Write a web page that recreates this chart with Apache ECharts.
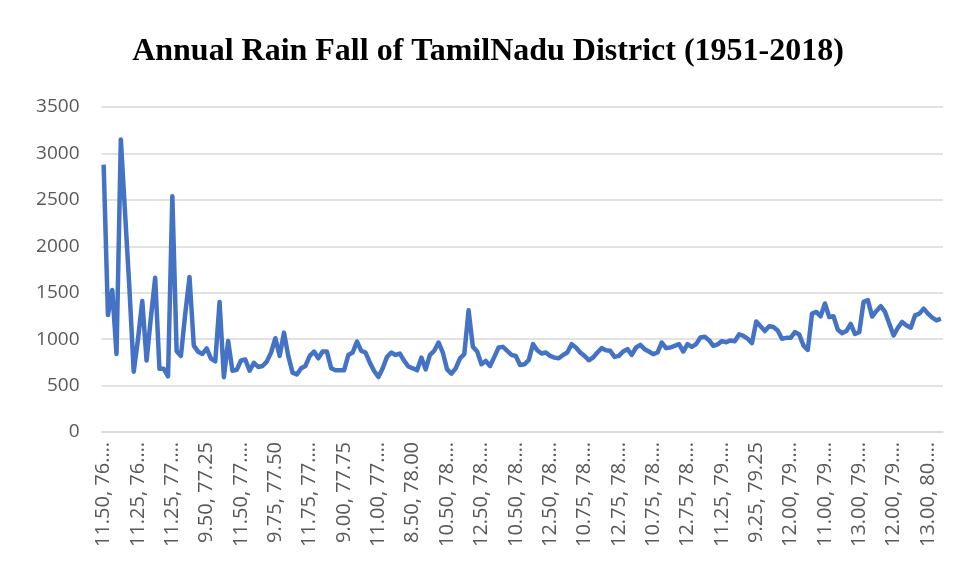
<!DOCTYPE html>
<html>
<head>
<meta charset="utf-8">
<title>Annual Rain Fall of TamilNadu District (1951-2018)</title>
<script src="https://cdn.jsdelivr.net/npm/echarts@6/dist/echarts.min.js"></script>
<style>
  html, body { margin: 0; padding: 0; background: #fff; }
  #chart { width: 956px; height: 581px; }
</style>
</head>
<body>
<div id="chart"></div>
<script>
// visible category labels (one every 8 grid points, as Excel shows them)
const tickLabels = [
    '11.50, 76.…', '11.25, 76.…', '11.25, 77.…', '9.50, 77.25', '11.50, 77.…',
    '9.75, 77.50', '11.75, 77.…', '9.00, 77.75', '11.00, 77.…', '8.50, 78.00',
    '10.50, 78.…', '12.50, 78.…', '10.50, 78.…', '12.50, 78.…', '10.75, 78.…',
    '12.75, 78.…', '10.75, 78.…', '12.75, 78.…', '11.25, 79.…', '9.25, 79.25',
    '12.00, 79.…', '11.00, 79.…', '13.00, 79.…', '12.00, 79.…', '13.00, 80.…'
];
const labelStep = 8;

// annual rainfall per grid point (mm)
const rainfall = [
    2880, 1260, 1530, 840, 3150, 2350, 1550, 650, 1000, 1410,
    770, 1230, 1660, 680, 680, 600, 2540, 870, 820, 1270,
    1670, 930, 865, 840, 900, 790, 760, 1400, 590, 980,
    660, 670, 770, 780, 660, 745, 700, 711, 758, 856,
    1010, 820, 1070, 820, 640, 620, 686, 711, 820, 866,
    794, 866, 866, 686, 664, 664, 664, 830, 856, 975,
    874, 856, 747, 657, 592, 686, 809, 856, 830, 845,
    765, 705, 686, 664, 801, 675, 830, 874, 964, 856,
    675, 628, 686, 794, 838, 1310, 917, 866, 729, 765,
    711, 809, 910, 917, 874, 830, 819, 722, 729, 773,
    946, 881, 845, 856, 819, 801, 794, 830, 856, 946,
    910, 856, 820, 773, 802, 856, 903, 881, 874, 809,
    820, 867, 892, 831, 910, 939, 892, 867, 838, 856,
    964, 903, 910, 928, 946, 867, 946, 917, 946, 1018,
    1025, 989, 928, 944, 978, 967, 986, 978, 1051, 1036,
    1004, 957, 1190, 1138, 1087, 1138, 1130, 1094, 1004, 1014,
    1014, 1076, 1051, 931, 884, 1275, 1293, 1246, 1384, 1239,
    1246, 1101, 1065, 1087, 1165, 1055, 1075, 1402, 1420, 1243,
    1304, 1355, 1293, 1166, 1040, 1123, 1185, 1148, 1123, 1257,
    1275, 1329, 1275, 1232, 1203, 1221
];

const categories = rainfall.map((v, i) => String(i));

const chart = echarts.init(document.getElementById('chart'));

const option = {
    backgroundColor: '#fff',
    animation: false,
    title: {
        text: 'Annual Rain Fall of TamilNadu District (1951-2018)',
        left: 483,
        top: 31,
        textAlign: 'center',
        textStyle: { fontFamily: 'Liberation Serif', fontWeight: 'bold', fontSize: 32, color: '#000' }
    },
    grid: { left: 101.5, right: 13, top: 107, bottom: 149, containLabel: false },
    xAxis: {
        type: 'category',
        data: categories,
        boundaryGap: true,
        axisLine: { lineStyle: { color: '#d9d9d9', width: 1.5 } },
        axisTick: { show: false },
        axisLabel: {
            interval: labelStep - 1,
            rotate: 90,
            margin: 10,
            color: '#595959',
            fontFamily: 'Open Sans',
            fontSize: 20,
            formatter: (val, idx) => idx % labelStep === 0 ? tickLabels[idx / labelStep] : ''
        }
    },
    yAxis: {
        type: 'value',
        min: 0,
        max: 3500,
        interval: 500,
        axisLine: { show: false },
        axisTick: { show: false },
        axisLabel: { color: '#595959', fontFamily: 'Open Sans', fontSize: 19, margin: 22, formatter: (v) => String(v) },
        splitLine: { lineStyle: { color: '#d9d9d9', width: 1.5 } }
    },
    series: [{
        name: 'Rainfall',
        type: 'line',
        data: rainfall,
        showSymbol: false,
        symbol: 'none',
        lineStyle: { color: '#4472c4', width: 4.5, join: 'round' }
    }]
};

chart.setOption(option);
</script>
</body>
</html>
